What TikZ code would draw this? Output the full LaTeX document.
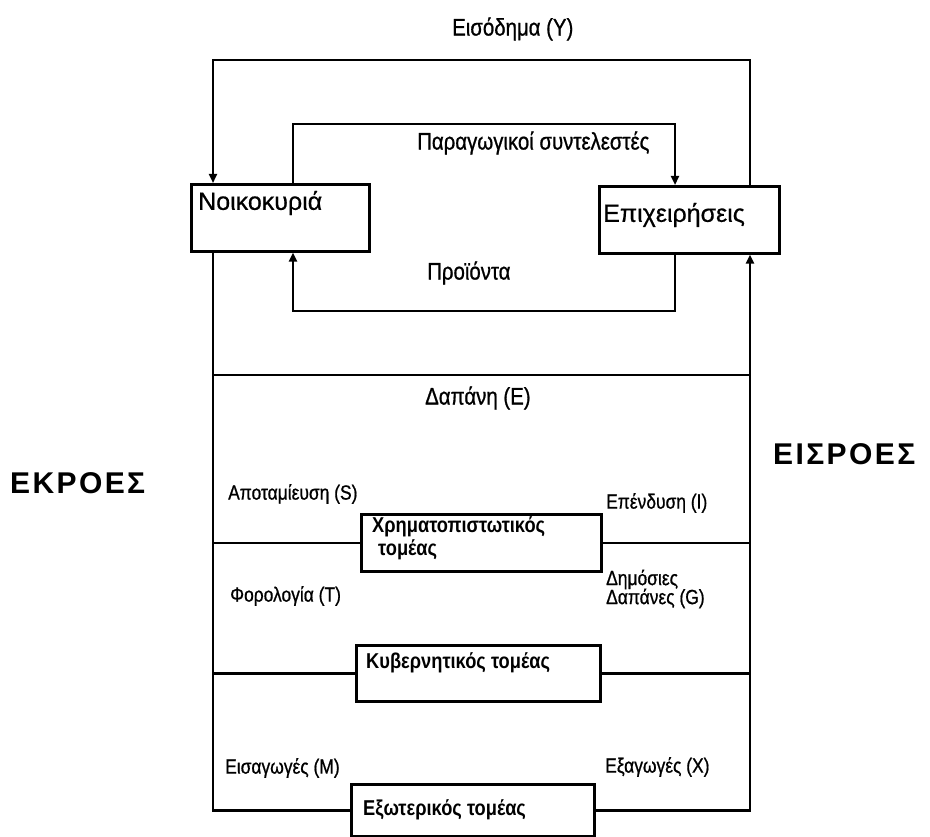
\documentclass[tikz,border=0pt]{standalone}
\usepackage{fontspec}
\setmainfont{Liberation Sans}
\newfontfamily\labfont[FakeStretch=0.85,FakeBold=0.8]{Liberation Sans}
\newfontfamily\secfont[FakeStretch=0.85]{Liberation Sans}
\newfontfamily\agentfont[FakeBold=0.6]{Liberation Sans}
\newfontfamily\bigfont[LetterSpace=8]{Liberation Sans Bold}
\usetikzlibrary{arrows.meta,calc}
\tikzset{
  flow/.style={line width=2.2pt, line join=miter},
  arr/.style={flow, -{Triangle[length=9pt,width=8pt]}},
  agentbox/.style={draw, line width=2.6pt, anchor=north west, inner sep=0pt},
  sectorbox/.style={draw, line width=2.8pt, anchor=north west, inner sep=0pt},
  smalllab/.style={font=\labfont\fontsize{20.5}{22}\selectfont, anchor=west, inner sep=0pt},
  midlab/.style={font=\labfont\fontsize{24}{26}\selectfont, anchor=west, inner sep=0pt},
  agentlab/.style={font=\agentfont\fontsize{25}{27}\selectfont, anchor=west, inner sep=0pt},
  sectorlab/.style={font=\secfont\bfseries\fontsize{21.5}{22}\selectfont, anchor=west, inner sep=0pt, align=left},
  biglab/.style={font=\bigfont\fontsize{30}{32}\selectfont, anchor=west, inner sep=0pt},
}
\begin{document}
\begin{tikzpicture}[x=1pt,y=-1pt]
\useasboundingbox (0,0) rectangle (930,837);

% boxes
\node[agentbox, minimum width=178pt, minimum height=67pt] (hh) at (190,183) {};
\node[agentbox, minimum width=180pt, minimum height=67pt] (firms) at (598,185) {};
\node[sectorbox, minimum width=240pt, minimum height=57pt] (fin) at (360,513) {};
\node[sectorbox, minimum width=244pt, minimum height=56pt] (gov) at (355,644) {};
\node[sectorbox, minimum width=243pt, minimum height=52pt] (ext) at (350,783) {};

% box texts
\node[agentlab] (hhtxt) at (198,203) {Νοικοκυριά};
\node[agentlab] (firmstxt) at (603,215) {Επιχειρήσεις};
\node[sectorlab] (fintxt1) at (372,527) {Χρηματοπιστωτικός};
\node[sectorlab] (fintxt2) at (378,550) {τομέας};
\node[sectorlab] (govtxt) at (366,663) {Κυβερνητικός τομέας};
\node[sectorlab] (exttxt) at (363,810) {Εξωτερικός τομέας};

% coordinates
\coordinate (yTL) at (213,60);
\coordinate (yTR) at (750,60);
\coordinate (fTL) at (293,124);
\coordinate (fTR) at (675,124);
\coordinate (pBR) at (675,311);
\coordinate (pBL) at (293,311);
\coordinate (dL) at (213,375);
\coordinate (dR) at (750,375);
\coordinate (BL) at (ext.west -| dL);
\coordinate (BR) at (ext.east -| dR);

% flows
\draw[arr] (firms.north -| yTR) -- (yTR) -- (yTL) -- (yTL |- hh.north);
\draw[arr] (hh.north -| fTL) -- (fTL) -- (fTR) -- (fTR |- firms.north);
\draw[arr] (firms.south -| pBR) -- (pBR) -- (pBL) -- (pBL |- hh.south);
\draw[flow] (hh.south -| dL) -- (BL) -- (ext.west);
\draw[arr] (ext.east) -- (BR) -- (BR |- firms.south);
\draw[flow] (dL) -- (dR);
\draw[flow] (fin.west -| dL) -- (fin.west);
\draw[flow] (fin.east) -- (fin.east -| dR);
\draw[flow] (gov.west -| dL) -- (gov.west);
\draw[flow] (gov.east) -- (gov.east -| dR);

% labels
\node[midlab] (income) at (452,29) {Εισόδημα (Υ)};
\node[midlab] (factors) at (417,143) {Παραγωγικοί συντελεστές};
\node[midlab] (products) at (427,273) {Προϊόντα};
\node[midlab] (spend) at (425,398) {Δαπάνη (Ε)};
\node[biglab] (outflows) at (10,483) {ΕΚΡΟΕΣ};
\node[biglab] (inflows) at (773,454) {ΕΙΣΡΟΕΣ};
\node[smalllab] (saving) at (228,494) {Αποταμίευση (S)};
\node[smalllab] (invest) at (606,503) {Επένδυση (I)};
\node[smalllab] (tax) at (230,596) {Φορολογία (Τ)};
\node[smalllab, align=left] (pubspend) at (606,589) {Δημόσιες\\[-3pt]Δαπάνες (G)};
\node[smalllab] (imports) at (225,768) {Εισαγωγές (Μ)};
\node[smalllab] (exports) at (605,767) {Εξαγωγές (Χ)};
\end{tikzpicture}
\end{document}
